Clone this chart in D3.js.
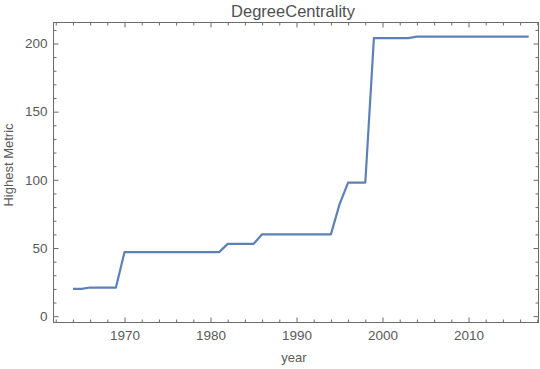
<!DOCTYPE html>
<html>
<head>
<meta charset="utf-8">
<script src="https://cdn.jsdelivr.net/npm/d3@7"></script>
<style>
  html, body { margin: 0; padding: 0; background: #fff; }
  svg { display: block; }
  text { font-family: "Liberation Sans", Arial, sans-serif; }
</style>
</head>
<body>
<svg id="chart" width="540" height="369"></svg>
<script>
const years = [1964,1965,1966,1967,1968,1969,1970,1971,1972,1973,1974,1975,1976,1977,1978,1979,1980,1981,1982,1983,1984,1985,1986,1987,1988,1989,1990,1991,1992,1993,1994,1995,1996,1997,1998,1999,2000,2001,2002,2003,2004,2005,2006,2007,2008,2009,2010,2011,2012,2013,2014,2015,2016,2017];
const values = [20,20,21,21,21,21,47,47,47,47,47,47,47,47,47,47,47,47,53,53,53,53,60,60,60,60,60,60,60,60,60,82,98,98,98,204,204,204,204,204,205,205,205,205,205,205,205,205,205,205,205,205,205,205];
const xTickLabels = [1970, 1980, 1990, 2000, 2010];
const yTickLabels = [0, 50, 100, 150, 200];
const titleText = "DegreeCentrality";
const xLabel = "year";
const yLabel = "Highest Metric";

const svg = d3.select("#chart");
const frame = {left: 53.5, right: 538.5, top: 22.5, bottom: 322.5};
const x = d3.scaleLinear().domain([1961.74, 2018.14]).range([frame.left, frame.right]);
const y = d3.scaleLinear().domain([-4.65, 215.4]).range([frame.bottom, frame.top]);

const frameColor = "#6b6b6b";
const textColor = "#5a5a5a";

const xMinor = d3.range(1962, 2019, 2).filter(v => v % 10 !== 0);
const yMinor = d3.range(10, 215, 10).filter(v => v % 50 !== 0);

const g = svg.append("g");

g.append("g").attr("transform", `translate(0,${frame.bottom})`)
  .call(d3.axisBottom(x).tickValues(xTickLabels).tickFormat(d3.format("d")).tickSizeInner(-5).tickSizeOuter(0).tickPadding(8));
g.append("g").attr("transform", `translate(0,${frame.bottom})`)
  .call(d3.axisBottom(x).tickValues(xMinor).tickFormat("").tickSizeInner(-3).tickSizeOuter(0));
g.append("g").attr("transform", `translate(0,${frame.top})`)
  .call(d3.axisTop(x).tickValues(xTickLabels).tickFormat("").tickSizeInner(-5).tickSizeOuter(0));
g.append("g").attr("transform", `translate(0,${frame.top})`)
  .call(d3.axisTop(x).tickValues(xMinor).tickFormat("").tickSizeInner(-3).tickSizeOuter(0));
g.append("g").attr("transform", `translate(${frame.left},0)`)
  .call(d3.axisLeft(y).tickValues(yTickLabels).tickFormat(d3.format("d")).tickSizeInner(-5).tickSizeOuter(0).tickPadding(6));
g.append("g").attr("transform", `translate(${frame.left},0)`)
  .call(d3.axisLeft(y).tickValues(yMinor).tickFormat("").tickSizeInner(-3).tickSizeOuter(0));
g.append("g").attr("transform", `translate(${frame.right},0)`)
  .call(d3.axisRight(y).tickValues(yTickLabels).tickFormat("").tickSizeInner(-5).tickSizeOuter(0));
g.append("g").attr("transform", `translate(${frame.right},0)`)
  .call(d3.axisRight(y).tickValues(yMinor).tickFormat("").tickSizeInner(-3).tickSizeOuter(0));

g.selectAll(".domain").remove();
g.selectAll(".tick line").attr("stroke", frameColor).attr("stroke-width", 1);
g.selectAll(".tick text").attr("fill", textColor).attr("font-size", 13.5).attr("font-family", "Liberation Sans, Arial, sans-serif");

svg.append("rect")
  .attr("x", frame.left).attr("y", frame.top)
  .attr("width", frame.right - frame.left).attr("height", frame.bottom - frame.top)
  .attr("fill", "none").attr("stroke", frameColor).attr("stroke-width", 1);

const data = years.map((yr, i) => ({yr, v: values[i]}));
svg.append("path")
  .datum(data)
  .attr("fill", "none")
  .attr("stroke", "#5e81b5")
  .attr("stroke-width", 2.2)
  .attr("stroke-linejoin", "round")
  .attr("d", d3.line().x(d => x(d.yr)).y(d => y(d.v)));

svg.append("text")
  .attr("x", 293).attr("y", 16.5)
  .attr("text-anchor", "middle")
  .attr("font-size", 16.5)
  .attr("fill", "#505050")
  .text(titleText);

svg.append("text")
  .attr("x", 294).attr("y", 361.5)
  .attr("text-anchor", "middle")
  .attr("font-size", 13)
  .attr("fill", textColor)
  .text(xLabel);

svg.append("text")
  .attr("transform", "translate(13,165) rotate(-90)")
  .attr("text-anchor", "middle")
  .attr("font-size", 13)
  .attr("fill", textColor)
  .text(yLabel);
</script>
</body>
</html>
